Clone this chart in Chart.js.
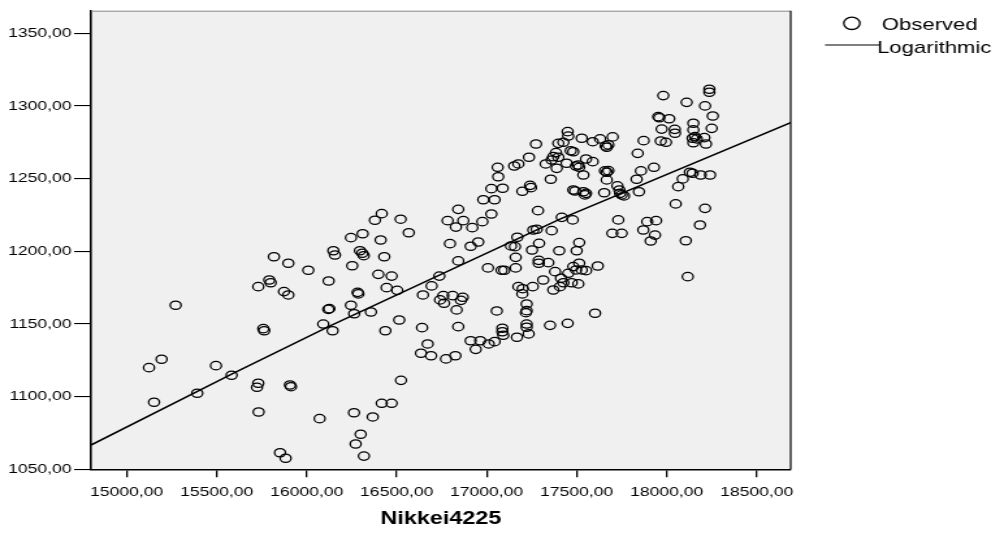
<!DOCTYPE html>
<html lang="en">
<head>
    <meta charset="utf-8">
    <title>Nikkei4225 scatter</title>
    <script src="https://cdn.jsdelivr.net/npm/chart.js"></script>
    <style>
        html, body { margin: 0; padding: 0; background: #fff; overflow: hidden; }
        /* the original export is stretched sideways: draw narrow, then widen */
        #scatterChart { display: block; transform: scaleX(1.3005); transform-origin: 0 0; }
    </style>
</head>

<body>
    <canvas id="scatterChart" width="772" height="533"></canvas>
    <script>
        // observed points (Nikkei4225, y)
        var obsX = [
            15818, 15898, 16009, 16148, 16157, 15731, 15792, 15800, 15874, 15898, 16122, 15272, 16120, 16126, 15759, 15764,
            16092, 16144, 15124, 15194, 15496, 15583, 15392, 15152, 15731, 15724, 15907, 15913, 15733, 16072, 15852, 15883,
            17235, 17061, 17153, 17176, 17064, 17026, 17089, 17198, 17241, 17246, 16981, 17044, 17285, 16842, 16783, 16870,
            16829, 16920, 16976, 17026, 16417, 16379, 16522, 16567, 16311, 16246,
            16411, 16296, 16309, 16317, 16431, 16253, 16796, 16911, 16953, 16842, 17170, 17135, 17157, 17259, 17278, 17252,
            17291, 17161, 17007, 17083, 17098, 17161, 17289, 17289, 16398, 16472,
            16737, 16694, 16444, 16503, 16646, 16283, 16287, 16246, 16264, 16357, 16759, 16811, 16741, 16763, 16867, 16857,
            16833, 17176, 17200, 17256, 17198, 17222, 17222, 17218, 17056, 16514,
            16437, 16641, 16842, 17087, 17087, 17092, 17222, 17222, 17233, 17168, 16911, 16964, 16939, 17011, 17044, 16672,
            16635, 16691, 16774, 16826,
            16524, 16417, 16472, 16263, 16367, 16300, 16272, 16318,
            17352, 17450, 17602, 17274,
            17981, 18237, 18237, 18111, 18213, 18256, 17953, 17959, 18014, 18148,
            18250, 17972, 18045, 18046, 18148, 18157, 18144, 18167, 18209, 17967,
            17996, 18148, 18218, 17872, 17839, 17450, 17453, 17528, 17589, 17630,
            17700, 17661, 17667, 17676, 17398, 17426, 17467, 17385, 17370, 17398,
            17361, 17328, 17389, 17444, 17481, 17496, 17514, 17509, 17552, 17589,
            17537, 17356, 17657, 17667, 17676, 17667, 17726, 17737, 17750, 17763,
            17741, 17653, 17846, 17833, 17857, 17929, 17481, 17491, 17537, 17552,
            17546, 17417, 17478, 17361, 17403, 17514, 17500, 17342, 17314, 17380,
            17413, 17426, 17407, 17370, 17453, 17481, 17514, 17496, 17528, 17552,
            17472, 17509, 17617, 17698, 17750, 17731, 17870, 17892, 17941, 17935,
            17911, 18106, 18185, 18213, 18050, 18064, 18089, 18129, 18144, 18189, 18241, 18117
        ];
        var obsY = [
            1196.2, 1191.7, 1186.9, 1200.3, 1197.4, 1175.6, 1180.2, 1178.3, 1172.2, 1169.9, 1179.5, 1162.8, 1160.0, 1160.5, 1146.7, 1145.3,
            1149.9, 1145.3, 1119.9, 1125.7, 1121.3, 1114.7, 1102.3, 1096.1, 1109.2, 1106.4, 1108.0, 1106.8, 1089.4, 1084.8, 1061.4, 1057.6,
            1264.6, 1257.7, 1258.6, 1260.0, 1251.2, 1243.0, 1243.3, 1241.2, 1245.3, 1243.7, 1235.4, 1235.4, 1227.9, 1228.8, 1221.0, 1221.0,
            1216.6, 1216.2, 1220.3, 1225.6, 1225.8, 1221.3, 1222.0, 1212.7, 1212.0, 1209.3,
            1207.7, 1200.3, 1198.6, 1196.9, 1196.2, 1190.0, 1205.2, 1203.4, 1206.3, 1193.3, 1209.6, 1203.6, 1203.1, 1214.6, 1215.1, 1200.8,
            1205.4, 1195.8, 1188.5, 1186.9, 1186.9, 1188.5, 1193.7, 1191.7, 1184.1, 1182.9,
            1182.9, 1176.1, 1174.9, 1173.1, 1169.9, 1171.7, 1170.6, 1162.8, 1157.0, 1158.2, 1169.4, 1169.4, 1166.5, 1164.2, 1168.3, 1166.2,
            1159.6, 1175.6, 1174.2, 1175.6, 1170.6, 1163.7, 1159.1, 1157.7, 1158.9, 1152.7,
            1145.3, 1147.4, 1148.1, 1147.0, 1144.6, 1142.2, 1149.9, 1147.7, 1143.1, 1140.8, 1138.4, 1138.4, 1132.5, 1136.2, 1137.8, 1136.2,
            1129.8, 1128.1, 1125.9, 1128.1,
            1111.2, 1095.4, 1095.4, 1088.9, 1086.0, 1074.1, 1067.4, 1059.1,
            1149.0, 1150.4, 1157.3, 1273.7,
            1307.0, 1311.4, 1309.3, 1302.4, 1299.9, 1293.0, 1292.5, 1291.8, 1291.1, 1288.0,
            1284.5, 1284.0, 1283.8, 1281.1, 1283.4, 1278.8, 1277.7, 1277.2, 1278.1, 1275.8,
            1274.9, 1274.6, 1273.7, 1276.0, 1267.3, 1282.2, 1279.2, 1277.7, 1275.3, 1277.2,
            1278.6, 1272.4, 1271.5, 1273.1, 1274.2, 1274.9, 1269.1, 1267.8, 1265.0, 1264.6,
            1262.7, 1260.0, 1257.0, 1260.5, 1268.4, 1258.6, 1257.7, 1259.3, 1263.4, 1261.6,
            1252.4, 1249.5, 1255.2, 1254.3, 1255.4, 1249.0, 1244.9, 1242.1, 1238.7, 1238.0,
            1239.8, 1240.2, 1240.9, 1249.5, 1255.2, 1257.7, 1242.1, 1241.4, 1240.9, 1239.8,
            1238.7, 1223.3, 1221.5, 1214.1, 1200.3, 1205.9, 1200.3, 1192.1, 1180.2, 1185.9,
            1181.4, 1178.3, 1175.6, 1173.3, 1184.8, 1189.4, 1191.7, 1187.1, 1187.1, 1186.6,
            1178.3, 1177.5, 1189.8, 1212.3, 1212.3, 1221.5, 1214.6, 1220.3, 1221.0, 1211.1,
            1207.0, 1207.2, 1218.0, 1229.5, 1232.5, 1244.4, 1249.7, 1254.3, 1253.6, 1252.4, 1252.4, 1182.5
        ];

        // logarithmic fit line
        var fitX = [14802, 15583, 16130, 17407, 18694];
        var fitY = [1066.7, 1115.5, 1148.6, 1222.0, 1288.7];

        var xTicks = [15000, 15500, 16000, 16500, 17000, 17500, 18000, 18500];
        var yTicks = [1050, 1100, 1150, 1200, 1250, 1300, 1350];
        var seriesNames = ['Observed', 'Logarithmic'];
        var xTitle = 'Nikkei4225';

        var FONT = "'Liberation Sans', Arial, sans-serif";

        function commaLabel(v) {
            return Number(v).toFixed(2).replace('.', ',');
        }

        // grey plot box, gray top edge, black right edge
        var plotFrame = {
            id: 'plotFrame',
            beforeDraw: function (chart) {
                var ctx = chart.ctx, a = chart.chartArea;
                ctx.save();
                ctx.fillStyle = '#f0f0f0';
                ctx.fillRect(a.left, a.top, a.right - a.left, a.bottom - a.top);
                ctx.restore();
            },
            afterDraw: function (chart) {
                var ctx = chart.ctx, a = chart.chartArea;
                ctx.save();
                ctx.lineWidth = 1;
                ctx.strokeStyle = '#8a8a8a';
                ctx.beginPath();
                ctx.moveTo(a.left, a.top + 0.5);
                ctx.lineTo(a.right, a.top + 0.5);
                ctx.stroke();
                ctx.strokeStyle = '#000';
                ctx.lineWidth = 1.2;
                ctx.beginPath();
                ctx.moveTo(a.right, a.top);
                ctx.lineTo(a.right, a.bottom);
                ctx.stroke();
                ctx.restore();
            }
        };

        // legend in the SPSS style, top right
        var spssLegend = {
            id: 'spssLegend',
            afterDraw: function (chart) {
                var ctx = chart.ctx;
                ctx.save();
                ctx.font = '17px ' + FONT;
                ctx.fillStyle = '#000';
                ctx.strokeStyle = '#000';
                ctx.textBaseline = 'alphabetic';
                ctx.textAlign = 'left';

                ctx.lineWidth = 1.3;
                ctx.beginPath();
                ctx.arc(655, 23.3, 6.2, 0, Math.PI * 2);
                ctx.stroke();
                ctx.fillText(seriesNames[0], 678, 29.5);

                ctx.lineWidth = 1.2;
                ctx.beginPath();
                ctx.moveTo(634.4, 45);
                ctx.lineTo(676.7, 45);
                ctx.stroke();
                ctx.fillText(seriesNames[1], 674.4, 52.5);
                ctx.restore();
            }
        };

        var ctx = document.getElementById('scatterChart').getContext('2d');
        var myChart = new Chart(ctx, {
            type: 'scatter',
            data: {
                datasets: [{
                    label: seriesNames[0],
                    data: obsX.map(function (x, i) { return { x: x, y: obsY[i] }; }),
                    pointStyle: 'circle',
                    pointRadius: 4.2,
                    pointBorderWidth: 1.25,
                    borderColor: '#000',
                    backgroundColor: 'rgba(0,0,0,0)',
                    order: 1
                }, {
                    label: seriesNames[1],
                    data: fitX.map(function (x, i) { return { x: x, y: fitY[i] }; }),
                    showLine: true,
                    pointRadius: 0,
                    borderColor: '#000',
                    borderWidth: 1.5,
                    tension: 0,
                    order: 0
                }]
            },
            options: {
                responsive: false,
                animation: false,
                layout: {
                    padding: { left: 0, right: 164, top: 10.7, bottom: 0 }
                },
                plugins: {
                    legend: { display: false },
                    tooltip: { enabled: false }
                },
                scales: {
                    x: {
                        type: 'linear',
                        position: 'bottom',
                        min: 14802,
                        max: 18689,
                        afterBuildTicks: function (s) { s.ticks = xTicks.map(function (v) { return { value: v }; }); },
                        afterFit: function (s) { s.height = 63.7; },
                        grid: { drawOnChartArea: false, drawTicks: true, tickLength: 8, color: '#000', lineWidth: 1.3 },
                        border: { display: true, color: '#000', width: 1.5 },
                        ticks: {
                            color: '#000',
                            padding: 7,
                            maxRotation: 0,
                            font: { family: FONT, size: 13.5 },
                            callback: commaLabel
                        },
                        title: {
                            display: true,
                            text: xTitle,
                            color: '#000',
                            font: { family: FONT, size: 18, weight: 'bold' },
                            padding: { top: 0, bottom: 3.5 }
                        }
                    },
                    y: {
                        type: 'linear',
                        position: 'left',
                        min: 1050,
                        max: 1365.4,
                        afterBuildTicks: function (s) { s.ticks = yTicks.map(function (v) { return { value: v }; }); },
                        afterFit: function (s) { s.width = 70; },
                        grid: { drawOnChartArea: false, drawTicks: true, tickLength: 13, color: '#000', lineWidth: 1.1 },
                        border: { display: true, color: '#000', width: 1.6 },
                        ticks: {
                            color: '#000',
                            padding: 2,
                            font: { family: FONT, size: 13.5 },
                            callback: commaLabel
                        }
                    }
                }
            },
            plugins: [plotFrame, spssLegend]
        });
    </script>
</body>
</html>
